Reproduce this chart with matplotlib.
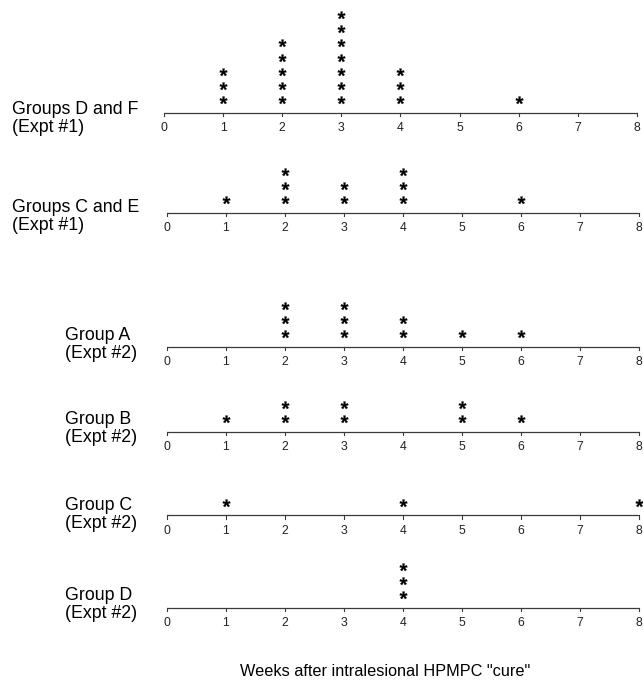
import numpy as np
import matplotlib
matplotlib.use("Agg")
import matplotlib.pyplot as plt
from matplotlib.textpath import TextPath
from matplotlib.font_manager import FontProperties
from matplotlib.path import Path

# Weeks (0-8) after intralesional HPMPC "cure" at which each animal recurred;
# one count per week for every group.
weeks = [0, 1, 2, 3, 4, 5, 6, 7, 8]
group_names = ["Groups D and F", "Groups C and E", "Group A", "Group B", "Group C", "Group D"]
experiments = ["(Expt #1)", "(Expt #1)", "(Expt #2)", "(Expt #2)", "(Expt #2)", "(Expt #2)"]
counts_DF_1 = [0, 3, 5, 7, 3, 0, 1, 0, 0]
counts_CE_1 = [0, 1, 3, 2, 3, 0, 1, 0, 0]
counts_A_2 = [0, 0, 3, 3, 2, 1, 1, 0, 0]
counts_B_2 = [0, 1, 2, 2, 0, 2, 1, 0, 0]
counts_C_2 = [0, 1, 0, 0, 1, 0, 0, 0, 1]
counts_D_2 = [0, 0, 0, 0, 3, 0, 0, 0, 0]
all_counts = [counts_DF_1, counts_CE_1, counts_A_2, counts_B_2, counts_C_2, counts_D_2]
xlabel = 'Weeks after intralesional HPMPC "cure"'

W, H = 643, 691
fig = plt.figure(figsize=(W / 100, H / 100), dpi=100)
fig.patch.set_facecolor("white")

# Layout in pixels: baseline row of each panel, origin of its week scale,
# and where its two-line label sits.
axis_rows = [112.7, 212.7, 346.5, 431.5, 515.0, 607.5]
x_origin = [164.0, 166.5, 166.5, 166.5, 166.5, 166.5]
label_left = [12, 12, 65, 65, 65, 65]
label_rows = [(110, 128), (208, 226), (335, 353), (420, 437), (506, 523), (596, 613)]
PX_PER_WEEK = 59.1
ROW = 14.3          # vertical step between stacked symbols (px)
FIRST = 9.3         # gap from baseline to first symbol centre (px)

label_font = ["Liberation Sans", "DejaVu Sans"]
tick_font = ["Liberation Sans Narrow", "Liberation Sans", "DejaVu Sans"]

# Asterisk symbol taken from the bold sans glyph, centred on its own box
glyph = TextPath((0, 0), "*", size=10,
                 prop=FontProperties(family="Liberation Sans", weight="bold"))
verts = glyph.vertices.copy()
mn, mx = verts.min(axis=0), verts.max(axis=0)
verts -= (mn + mx) / 2
star = Path(verts, glyph.codes)

below, above = 32, 125
for i, counts in enumerate(all_counts):
    yb = axis_rows[i]
    ax = fig.add_axes([0, 1 - (yb + below) / H, 1, (below + above) / H])
    ax.set_xlim(-x_origin[i] / PX_PER_WEEK, (W - x_origin[i]) / PX_PER_WEEK)
    ax.set_ylim(-below / ROW, above / ROW)
    ax.axis("off")
    ax.patch.set_alpha(0)

    # baseline with downward ticks and week numbers
    ax.plot([weeks[0], weeks[-1]], [0, 0], color="#3a3a3a", lw=0.9,
            solid_capstyle="butt", clip_on=False)
    for w in weeks:
        ax.plot([w, w], [0, -3.5 / ROW], color="#3a3a3a", lw=0.8, clip_on=False)
        ax.text(w, -15.5 / ROW, str(w), ha="center", va="center",
                fontsize=8.8, family=tick_font, color="#222222", clip_on=False)

    # one asterisk per animal, stacked above its week
    xs, ys = [], []
    for w, c in zip(weeks, counts):
        for k in range(c):
            xs.append(w)
            ys.append(FIRST / ROW + k)
    ax.plot(xs, ys, linestyle="none", marker=star, markersize=10.0,
            markeredgewidth=0.15, color="black", clip_on=False)

    fig.text(label_left[i] / W, 1 - label_rows[i][0] / H, group_names[i],
             ha="left", va="center", fontsize=12.8, family=label_font, color="black")
    fig.text(label_left[i] / W, 1 - label_rows[i][1] / H, experiments[i],
             ha="left", va="center", fontsize=12.8, family=label_font, color="black")

fig.text(385 / W, 1 - 672 / H, xlabel, ha="center", va="center",
         fontsize=11.7, family=label_font, color="black")

fig.savefig("out.png", dpi=100, facecolor="white")
